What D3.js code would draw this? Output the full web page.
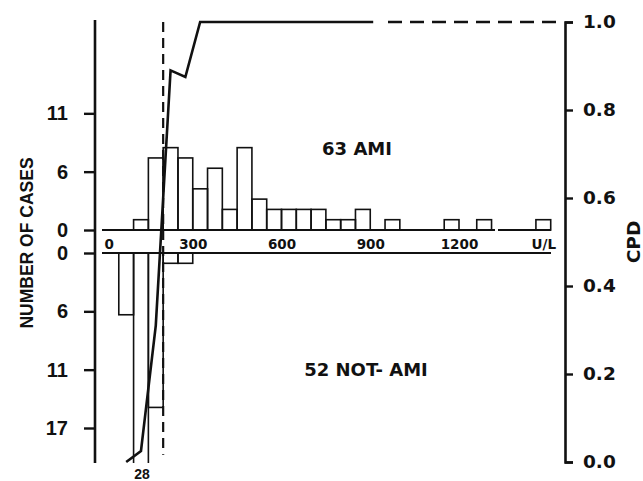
<!DOCTYPE html>
<html>
<head>
<meta charset="utf-8">
<script src="https://cdn.jsdelivr.net/npm/d3@7"></script>
<style>
  body { margin: 0; background: #fff; }
  svg { display: block; }
  text { fill: #111; }
</style>
</head>
<body>
<svg id="chart" width="643" height="481"></svg>
<script>
// AMI group (top): bin starts and counts, bins 50 units wide
const amiBins = [100, 150, 200, 250, 300, 350, 400, 450, 500, 550, 600, 650, 700, 750, 800, 850, 950, 1150, 1260, 1460];
const amiCounts = [1, 7, 8, 7, 4, 6, 2, 8, 3, 2, 2, 2, 2, 1, 1, 2, 1, 1, 1, 1];
// not-AMI group (bottom)
const notAmiBins = [50, 100, 150, 200, 250];
const notAmiCounts = [6, 28, 15, 1, 1];
// CPD curve
const cpdX = [75, 125, 175, 225, 275, 325, 910];
const cpdVal = [0, 0.025, 0.31, 0.89, 0.875, 1, 1];
const cpdTailX = [960, 1530];
const cpdTailVal = [1, 1];
// axes
const countTicks = [0, 17 / 3, 34 / 3, 17];
const cpdTicks = [0, 0.2, 0.4, 0.6, 0.8, 1.0];
const xTicks = [0, 300, 600, 900, 1200, 1485];
const xTickLabels = ["0", "300", "600", "900", "1200", "U/L"];
const cutoff = 200;
const binWidth = 50;

const svg = d3.select("#chart");
const ink = "#111";

const x = d3.scaleLinear().domain([0, 1200]).range([104, 459]);
const yTop = d3.scaleLinear().domain([0, 20.4]).range([230, 20]);
const yBot = d3.scaleLinear().domain([0, 20.4]).range([253, 463]);
const yCpd = d3.scaleLinear().domain([0, 1]).range([462, 22]);

const stripLeft = 102, stripRight = 551;

// top histogram
svg.append("g")
  .selectAll("rect")
  .data(amiBins.map((b, i) => ({ b, c: amiCounts[i] })))
  .join("rect")
  .attr("x", (d) => x(d.b))
  .attr("y", (d) => yTop(d.c))
  .attr("width", (d) => x(d.b + binWidth) - x(d.b))
  .attr("height", (d) => yTop(0) - yTop(d.c))
  .attr("fill", "none")
  .attr("stroke", ink)
  .attr("stroke-width", 1.6);

// bottom histogram
const botData = notAmiBins.map((b, i) => ({ b, c: notAmiCounts[i] }));
const maxCount = yBot.domain()[1];
svg.append("g")
  .selectAll("rect")
  .data(botData.filter((d) => d.c <= maxCount))
  .join("rect")
  .attr("x", (d) => x(d.b))
  .attr("y", yBot(0))
  .attr("width", (d) => x(d.b + binWidth) - x(d.b))
  .attr("height", (d) => yBot(d.c) - yBot(0))
  .attr("fill", "none")
  .attr("stroke", ink)
  .attr("stroke-width", 1.6);

// truncated bar(s)
const tall = botData.filter((d) => d.c > maxCount);
const tallG = svg.append("g");
tall.forEach((d) => {
  [d.b, d.b + binWidth].forEach((v) => {
    tallG.append("line")
      .attr("x1", x(v)).attr("x2", x(v))
      .attr("y1", yBot(0)).attr("y2", yBot(maxCount))
      .attr("stroke", ink).attr("stroke-width", 1.6);
  });
  tallG.append("text")
    .attr("x", x(d.b + binWidth / 2) + 1)
    .attr("y", 479)
    .attr("text-anchor", "middle")
    .style("font", "bold 14px 'Liberation Sans', Arial, sans-serif")
    .text(d.c);
});

// x strip
svg.append("line")
  .attr("x1", stripLeft).attr("x2", 495)
  .attr("y1", yTop(0)).attr("y2", yTop(0))
  .attr("stroke", ink).attr("stroke-width", 2);
svg.append("line")
  .attr("x1", 498).attr("x2", stripRight)
  .attr("y1", yTop(0)).attr("y2", yTop(0))
  .attr("stroke", ink).attr("stroke-width", 2);
svg.append("line")
  .attr("x1", stripLeft).attr("x2", stripRight)
  .attr("y1", yBot(0)).attr("y2", yBot(0))
  .attr("stroke", ink).attr("stroke-width", 2.2);

const xAxis = svg.append("g")
  .attr("transform", `translate(0,${yTop(0)})`)
  .call(d3.axisBottom(x).tickValues(xTicks).tickSize(0)
    .tickFormat((d, i) => xTickLabels[i]));
xAxis.select(".domain").remove();
xAxis.selectAll("text")
  .attr("y", 19).attr("dy", 0)
  .attr("fill", ink)
  .style("font", "bold 13.5px 'DejaVu Sans', sans-serif")
  .attr("text-anchor", (d, i) => (i === 0 ? "start" : "middle"));

// left axis
function styleLeft(g) {
  g.select(".domain").remove();
  g.selectAll("line").attr("stroke", ink).attr("stroke-width", 2.4);
  g.selectAll("text").attr("fill", ink)
    .style("font", "bold 20px 'Liberation Sans', Arial, sans-serif");
}
svg.append("g")
  .attr("transform", "translate(95,0)")
  .call(d3.axisLeft(yTop).tickValues(countTicks.slice(0, 3)).tickSize(11).tickPadding(16)
    .tickFormat((d) => Math.round(d)))
  .call(styleLeft);
svg.append("g")
  .attr("transform", "translate(95,0)")
  .call(d3.axisLeft(yBot).tickValues(countTicks).tickSize(11).tickPadding(16)
    .tickFormat((d) => Math.round(d)))
  .call(styleLeft);
svg.append("line")
  .attr("x1", 95).attr("x2", 95)
  .attr("y1", yTop(maxCount)).attr("y2", yBot(maxCount))
  .attr("stroke", ink).attr("stroke-width", 2.6);

svg.append("text")
  .attr("transform", "translate(27,243) rotate(-90)")
  .attr("text-anchor", "middle")
  .attr("dy", "0.35em")
  .style("font", "bold 17.5px 'Liberation Sans', Arial, sans-serif")
  .text("NUMBER OF CASES");

// right axis (CPD)
const rAxis = svg.append("g")
  .attr("transform", "translate(565,0)")
  .call(d3.axisRight(yCpd).tickValues(cpdTicks).tickSize(8).tickPadding(10)
    .tickFormat(d3.format(".1f")));
rAxis.select(".domain").attr("stroke", ink).attr("stroke-width", 2.6);
rAxis.selectAll("line").attr("stroke", ink).attr("stroke-width", 2.4);
rAxis.selectAll("text").attr("fill", ink)
  .style("font", "bold 18.5px 'DejaVu Sans', sans-serif");

svg.append("text")
  .attr("transform", "translate(634,242) rotate(-90)")
  .attr("text-anchor", "middle")
  .attr("dy", "0.35em")
  .style("font", "bold 18.5px 'DejaVu Sans', sans-serif")
  .text("CPD");

// cutoff dashed line
svg.append("line")
  .attr("x1", x(cutoff)).attr("x2", x(cutoff))
  .attr("y1", yCpd(1)).attr("y2", yBot(19.6))
  .attr("stroke", ink).attr("stroke-width", 2.2)
  .attr("stroke-dasharray", "10,6");

// CPD curve
const line = d3.line().x((d) => x(d[0])).y((d) => yCpd(d[1]));
svg.append("path")
  .attr("d", line(cpdX.map((v, i) => [v, cpdVal[i]])))
  .attr("fill", "none").attr("stroke", ink)
  .attr("stroke-width", 2.6).attr("stroke-linejoin", "miter");
svg.append("path")
  .attr("d", line(cpdTailX.map((v, i) => [v, cpdTailVal[i]])))
  .attr("fill", "none").attr("stroke", ink)
  .attr("stroke-width", 2.4).attr("stroke-dasharray", "14,8");

// group labels
svg.append("text")
  .attr("x", 357).attr("y", 155)
  .attr("text-anchor", "middle")
  .style("font", "bold 18px 'DejaVu Sans', sans-serif")
  .text("63 AMI");
svg.append("text")
  .attr("x", 366).attr("y", 376)
  .attr("text-anchor", "middle")
  .style("font", "bold 18px 'DejaVu Sans', sans-serif")
  .text("52 NOT- AMI");
</script>
</body>
</html>
